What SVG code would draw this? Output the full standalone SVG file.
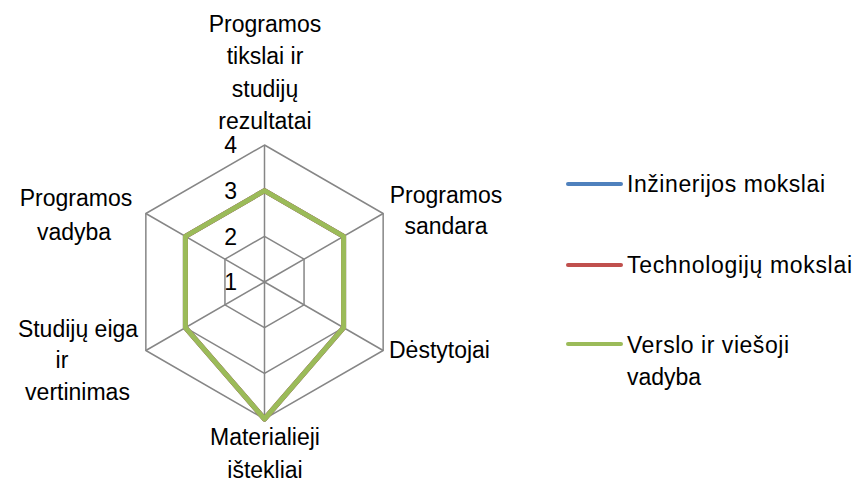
<svg xmlns="http://www.w3.org/2000/svg" width="858" height="485" viewBox="0 0 858 485">
<style>
text{font-family:"Liberation Sans",Arial,sans-serif;font-size:23px;fill:#000}
.m{text-anchor:middle}
.e{text-anchor:end}
.grid{fill:none;stroke:#868686;stroke-width:1.5}
.ser{fill:none;stroke-width:5;stroke-linejoin:round}
.leg{stroke-width:4;stroke-linecap:round}
</style>
<rect width="858" height="485" fill="#fff"/>
<g id="grid">
<polygon class="grid" points="264.5,145 383.15,213.5 383.15,350.5 264.5,419 145.85,350.5 145.85,213.5"/>
<polygon class="grid" points="264.5,190.67 343.6,236.33 343.6,327.67 264.5,373.33 185.4,327.67 185.4,236.33"/>
<polygon class="grid" points="264.5,236.33 304.05,259.17 304.05,304.83 264.5,327.67 224.95,304.83 224.95,259.17"/>
<path class="grid" d="M264.5,282V145M264.5,282L383.15,213.5M264.5,282L383.15,350.5M264.5,282V419M264.5,282L145.85,350.5M264.5,282L145.85,213.5"/>
</g>
<g id="axis-values">
<text class="e" x="237" y="153">4</text>
<text class="e" x="237" y="199">3</text>
<text class="e" x="237" y="245">2</text>
<text class="e" x="237" y="290">1</text>
</g>
<g id="series">
<polygon id="s-inz" class="ser" stroke="#4F81BD" points="264.5,190.67 343.6,236.33 343.6,327.67 264.5,419 185.4,327.67 185.4,236.33"/>
<polygon id="s-tech" class="ser" stroke="#C0504D" points="264.5,190.67 343.6,236.33 343.6,327.67 264.5,419 185.4,327.67 185.4,236.33"/>
<polygon id="s-vv" class="ser" stroke="#9BBB59" points="264.5,190.67 343.6,236.33 343.6,327.67 264.5,419 185.4,327.67 185.4,236.33"/>
</g>
<g id="label-top">
<text class="m" x="265" y="32">Programos</text>
<text class="m" x="265" y="64">tikslai ir</text>
<text class="m" x="265" y="97">studijų</text>
<text class="m" x="265" y="129">rezultatai</text>
</g>
<g id="label-ur">
<text class="m" x="446" y="203">Programos</text>
<text class="m" x="446" y="234">sandara</text>
</g>
<g id="label-lr">
<text x="389" y="358">Dėstytojai</text>
</g>
<g id="label-bottom">
<text class="m" x="265" y="445">Materialieji</text>
<text class="m" x="265" y="478">ištekliai</text>
</g>
<g id="label-ll">
<text class="m" x="78" y="337">Studijų eiga</text>
<text class="m" x="62" y="368">ir</text>
<text class="m" x="77.5" y="400">vertinimas</text>
</g>
<g id="label-ul">
<text class="m" x="76" y="206">Programos</text>
<text class="m" x="74" y="240">vadyba</text>
</g>
<g id="legend">
<g id="leg-inz"><line class="leg" x1="568" y1="184" x2="621" y2="184" stroke="#4F81BD"/><text x="627" y="192" textLength="198" lengthAdjust="spacing">Inžinerijos mokslai</text></g>
<g id="leg-tech"><line class="leg" x1="568" y1="265" x2="621" y2="265" stroke="#C0504D"/><text x="627" y="273" textLength="225" lengthAdjust="spacing">Technologijų mokslai</text></g>
<g id="leg-vv"><line class="leg" x1="568" y1="344" x2="621" y2="344" stroke="#9BBB59"/><text x="627" y="353" textLength="162" lengthAdjust="spacing">Verslo ir viešoji</text><text x="627" y="385">vadyba</text></g>
</g>
</svg>
